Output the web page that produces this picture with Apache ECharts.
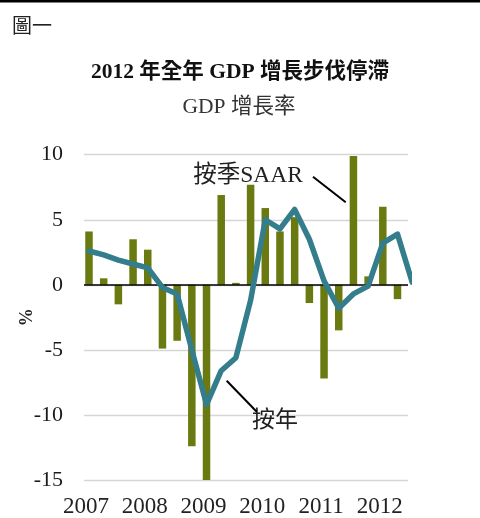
<!DOCTYPE html>
<html>
<head>
<meta charset="utf-8">
<script src="https://cdn.jsdelivr.net/npm/echarts@6/dist/echarts.min.js"></script>
<style>
html,body{margin:0;padding:0;background:#fff;}
#chart{width:480px;height:518px;}
</style>
</head>
<body>
<div id="chart"></div>
<script>
// Quarterly categories (2007Q1 - 2012Q3; the last one lies outside the cropped plot)
const quarters = ['2007Q1','2007Q2','2007Q3','2007Q4','2008Q1','2008Q2','2008Q3','2008Q4',
  '2009Q1','2009Q2','2009Q3','2009Q4','2010Q1','2010Q2','2010Q3','2010Q4',
  '2011Q1','2011Q2','2011Q3','2011Q4','2012Q1','2012Q2','2012Q3'];
// 按季 SAAR (bars, visible quarters only)
const saar = [4.1,0.5,-1.5,3.5,2.7,-4.9,-4.3,-12.4,-15.1,6.9,0.15,7.7,5.9,4.1,5.2,-1.4,
  -7.2,-3.5,9.9,0.65,6.0,-1.1];
// 按年 (line)
const yoy = [2.6,2.3,1.9,1.6,1.3,-0.2,-0.7,-5.0,-9.2,-6.6,-5.6,-1.2,5.0,4.3,5.8,3.5,
  0.3,-1.8,-0.7,-0.1,3.2,3.9,0.2];
const yearLabels = ['2007','2008','2009','2010','2011','2012'];
const yTicks = [-15,-10,-5,0,5,10];

const serif = '"Liberation Serif","Noto Sans CJK TC",serif';
const barData = saar.map((v,i)=>[i+1, v]);
const lineData = yoy.map((v,i)=>[i+1, v]);
const yearPos = yearLabels.map((_,k)=> 1 + k*4 - 0.2);

const chart = echarts.init(document.getElementById('chart'), null, {renderer:'canvas'});
chart.setOption({
  animation:false,
  backgroundColor:'#fff',
  grid:{left:84, right:72, top:154.7, bottom:31.3, containLabel:false},
  xAxis:{
    type:'value', min:0.66, max:22.715,
    splitLine:{show:false}, axisLine:{show:false}, axisTick:{show:false},
    axisLabel:{
      customValues: yearPos,
      formatter: v => yearLabels[Math.round((v - yearPos[0]) / 4)],
      fontSize:23, fontFamily:serif, color:'#222', margin:15
    }
  },
  yAxis:{
    type:'value', min:yTicks[0], max:yTicks[yTicks.length-1], interval:5,
    axisLine:{show:false}, axisTick:{show:false},
    splitLine:{lineStyle:{color:'#d6d6d6', width:1.4}},
    axisLabel:{fontSize:22, fontFamily:serif, color:'#1a1a1a', margin:21},
    name:'%', nameLocation:'middle', nameRotate:90, nameGap:48, nameMoveOverlap:false,
    nameTextStyle:{fontSize:18, fontFamily:serif, color:'#222', fontWeight:'bold'}
  },
  series:[
    {
      type:'bar', name:'按季SAAR', data:barData, barWidth:7.5,
      itemStyle:{color:'#6a7a10'}, z:2, clip:true,
      markLine:{
        silent:true, symbol:['none','none'], label:{show:false},
        lineStyle:{color:'#000', width:1.6, type:'solid'},
        data:[{yAxis:0}], z:3
      }
    },
    {
      type:'line', name:'按年', data:lineData, symbol:'none', z:5, clip:true,
      lineStyle:{color:'#347d8c', width:5.5, cap:'round', join:'round'}
    }
  ],
  graphic:[
    {type:'rect', shape:{x:0,y:0,width:480,height:2.5}, style:{fill:'#000'}},
    {type:'text', x:12, y:25, style:{text:'圖一', font:'20px "Noto Sans CJK TC"', fill:'#222', textAlign:'left', textVerticalAlign:'middle'}},
    {type:'text', x:240, y:72, style:{text:'2012 年全年 GDP 增長步伐停滯', font:'bold 21.5px ' + serif, fill:'#111', textAlign:'center', textVerticalAlign:'middle'}},
    {type:'text', x:239, y:107, style:{text:'GDP 增長率', font:'21.5px ' + serif, fill:'#333', textAlign:'center', textVerticalAlign:'middle'}},
    {type:'text', x:248, y:176, z:10, style:{text:'按季SAAR', font:'23.5px ' + serif, fill:'#222', textAlign:'center', textVerticalAlign:'middle'}},
    {type:'line', z:10, shape:{x1:313,y1:176.7,x2:345.7,y2:202.3}, style:{stroke:'#000', lineWidth:2}},
    {type:'text', x:275, y:418, z:10, style:{text:'按年', font:'23px "Noto Sans CJK TC"', fill:'#222', textAlign:'center', textVerticalAlign:'middle'}},
    {type:'line', z:10, shape:{x1:226.7,y1:380.7,x2:256.7,y2:411.7}, style:{stroke:'#000', lineWidth:2}}
  ]
});
</script>
</body>
</html>
